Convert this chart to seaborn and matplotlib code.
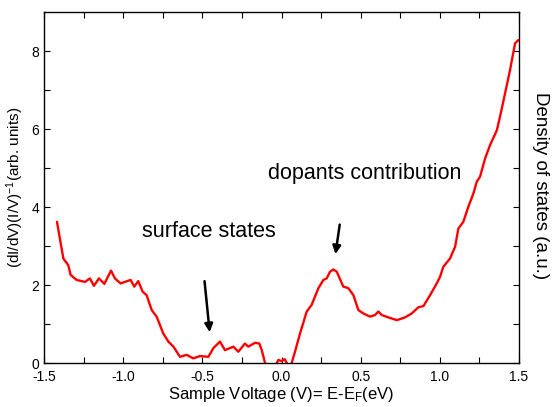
import numpy as np
import pandas as pd
import seaborn as sns
import matplotlib.pyplot as plt

sns.set_style("ticks")
plt.rcParams['font.family'] = ['Liberation Sans', 'DejaVu Sans']
plt.rcParams['mathtext.fontset'] = 'custom'
plt.rcParams['mathtext.rm'] = 'Liberation Sans'
plt.rcParams['mathtext.it'] = 'Liberation Sans'
plt.rcParams['text.color'] = 'black'
plt.rcParams['axes.labelcolor'] = 'black'

# curve (sample voltage in V, dI/dV normalised)
voltage = [-1.418, -1.378, -1.347, -1.332, -1.294, -1.241, -1.21, -1.185, -1.153, -1.119,
           -1.077, -1.052, -1.016, -0.989, -0.953, -0.93, -0.905, -0.877, -0.852, -0.82,
           -0.789, -0.747, -0.715, -0.683, -0.641, -0.599, -0.557, -0.515, -0.462, -0.431,
           -0.389, -0.357, -0.304, -0.273, -0.231, -0.21, -0.167, -0.14, -0.125, -0.104,
           -0.08, -0.045, -0.03, -0.02, 0.0, 0.02, 0.033, 0.05, 0.064, 0.085,
           0.117, 0.159, 0.19, 0.233, 0.264, 0.285, 0.306, 0.327, 0.349, 0.39,
           0.422, 0.454, 0.485, 0.517, 0.559, 0.59, 0.612, 0.633, 0.675, 0.728,
           0.78, 0.822, 0.864, 0.896, 0.938, 0.98, 1.001, 1.022, 1.064, 1.096,
           1.117, 1.148, 1.18, 1.212, 1.233, 1.254, 1.286, 1.317, 1.36, 1.38,
           1.412, 1.443, 1.475, 1.496]
signal = [3.62, 2.68, 2.51, 2.26, 2.13, 2.08, 2.17, 1.98, 2.17, 2.03,
          2.37, 2.17, 2.04, 2.08, 2.13, 1.96, 2.10, 1.83, 1.74, 1.36,
          1.19, 0.76, 0.55, 0.42, 0.16, 0.21, 0.12, 0.18, 0.16, 0.38,
          0.55, 0.33, 0.42, 0.29, 0.50, 0.42, 0.52, 0.50, 0.33, 0.0,
          -0.3, -0.2, 0.0, 0.08, 0.05, 0.1, 0.0, -0.2, 0.0, 0.29,
          0.76, 1.32, 1.49, 1.92, 2.13, 2.17, 2.34, 2.40, 2.34, 1.96,
          1.92, 1.74, 1.36, 1.27, 1.19, 1.23, 1.32, 1.23, 1.17, 1.10,
          1.17, 1.27, 1.43, 1.46, 1.74, 2.04, 2.21, 2.47, 2.68, 2.98,
          3.45, 3.62, 4.01, 4.35, 4.65, 4.78, 5.25, 5.59, 5.97, 6.32,
          6.92, 7.51, 8.20, 8.28]

df = pd.DataFrame({"V": voltage, "S": signal})

fig = plt.figure(figsize=(5.53, 4.07), dpi=100)
ax = fig.add_axes([0.0796, 0.108, 0.859, 0.8625])

sns.lineplot(data=df, x="V", y="S", color="red", linewidth=1.7, ax=ax, sort=False)

ax.set_xlim(-1.5, 1.5)
ax.set_ylim(0, 9)
ax.set_xticks([-1.5, -1.0, -0.5, 0.0, 0.5, 1.0, 1.5])
ax.set_xticklabels(["-1.5", "-1.0", "-0.5", "0.0", "0.5", "1.0", "1.5"])
ax.set_xticks(np.arange(-1.25, 1.5, 0.5), minor=True)
ax.set_yticks([0, 2, 4, 6, 8])
ax.set_yticks([1, 3, 5, 7], minor=True)
ax.tick_params(which="both", direction="in", top=True, right=True,
               length=4, width=0.8, labelsize=10, colors="black")
ax.tick_params(axis="x", pad=5)

for s in ax.spines.values():
    s.set_color("black")
    s.set_linewidth(1.0)

ax.set_xlabel("Sample Voltage (V)= E-E$_F$(eV)", fontsize=12, labelpad=1)
ax.set_ylabel("(dI/dV)(I/V)$^{-1}$(arb. units)", fontsize=11, labelpad=4)
fig.text(0.978, 0.545, "Density of states (a.u.)", rotation=270,
         ha="center", va="center", fontsize=13.5)

ax.text(-0.883, 3.37, "surface states", fontsize=15.5, va="center")
ax.text(-0.085, 4.87, "dopants contribution", fontsize=15.5, va="center")

ax.annotate("", xy=(-0.452, 0.72), xytext=(-0.488, 2.17),
            arrowprops=dict(arrowstyle="-|>", color="black", lw=1.8, mutation_scale=12))
ax.annotate("", xy=(0.338, 2.72), xytext=(0.37, 3.62),
            arrowprops=dict(arrowstyle="-|>", color="black", lw=1.8, mutation_scale=12))

fig.savefig("out.png", dpi=100)
